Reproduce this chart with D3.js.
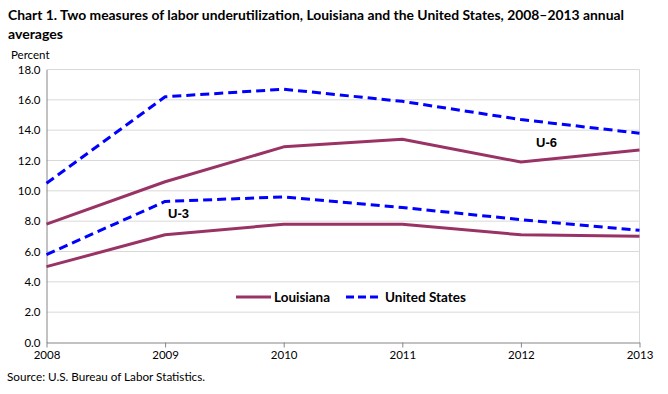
<!DOCTYPE html>
<html><head><meta charset="utf-8">
<script src="https://cdn.jsdelivr.net/npm/d3@7"></script>
<style>body{margin:0;background:#fff}</style>
</head><body>
<svg id="c" width="668" height="394"></svg>
<script>
const years = [2008, 2009, 2010, 2011, 2012, 2013];
const laU6 = [7.8, 10.6, 12.9, 13.4, 11.9, 12.7];
const laU3 = [5.0, 7.1, 7.8, 7.8, 7.1, 7.0];
const usU6 = [10.5, 16.2, 16.7, 15.9, 14.7, 13.8];
const usU3 = [5.8, 9.3, 9.6, 8.9, 8.1, 7.4];
const yTicks = [0, 2, 4, 6, 8, 10, 12, 14, 16, 18];

const svg = d3.select("#c");
const font = "Lato, 'Open Sans', sans-serif";
const x = d3.scaleLinear().domain([2008, 2013]).range([46.5, 639.5]);
const y = d3.scaleLinear().domain([0, 18]).range([342.5, 69.5]);

// title
svg.append("text").attr("x", 8).attr("y", 20).attr("font-family", font).attr("font-weight", "bold")
  .attr("font-size", 14).attr("fill", "#000").attr("textLength", 616).attr("lengthAdjust", "spacingAndGlyphs")
  .text("Chart 1. Two measures of labor underutilization, Louisiana and the United States, 2008\u20132013  annual");
svg.append("text").attr("x", 8).attr("y", 39).attr("font-family", font).attr("font-weight", "bold")
  .attr("font-size", 14).attr("fill", "#000").attr("textLength", 55).attr("lengthAdjust", "spacingAndGlyphs").text("averages");
svg.append("text").attr("x", 11).attr("y", 59).attr("font-family", font)
  .attr("font-size", 11.5).attr("fill", "#000").text("Percent");

// gridlines
svg.append("g").selectAll("line").data(yTicks.filter(d => d > 0)).join("line")
  .attr("x1", x(2008)).attr("x2", x(2013)).attr("y1", d => y(d)).attr("y2", d => y(d))
  .attr("stroke", "#d9d9d9").attr("stroke-width", 1);
// right border
svg.append("line").attr("x1", x(2013)).attr("x2", x(2013)).attr("y1", y(18)).attr("y2", y(0))
  .attr("stroke", "#d9d9d9");

// y axis
const yAxis = d3.axisLeft(y).tickValues(yTicks).tickFormat(d3.format(".1f")).tickSize(0).tickPadding(6);
const gy = svg.append("g").attr("transform", `translate(${x(2008)},0)`).call(yAxis);
gy.select(".domain").attr("stroke", "#868686");
gy.selectAll("text").attr("font-family", font).attr("font-size", 11.5).attr("fill", "#000");

// x axis
const xAxis = d3.axisBottom(x).tickValues(years).tickFormat(d3.format("d")).tickSize(5).tickSizeOuter(0).tickPadding(3);
const gx = svg.append("g").attr("transform", `translate(0,${y(0)})`).call(xAxis);
gx.select(".domain").attr("stroke", "#868686");
gx.selectAll(".tick line").attr("stroke", "#868686");
gx.selectAll("text").attr("font-family", font).attr("font-size", 11.5).attr("fill", "#000");

const line = d3.line().x((d, i) => x(years[i])).y(d => y(d));
const LA = "#993366", US = "#0000ff";
function draw(data, color, dashed) {
  svg.append("path").attr("d", line(data)).attr("fill", "none").attr("stroke", color)
    .attr("stroke-width", 3).attr("stroke-dasharray", dashed ? "9,5" : null).attr("stroke-linejoin", "round");
}
draw(laU6, LA, false);
draw(laU3, LA, false);
draw(usU6, US, true);
draw(usU3, US, true);

// series labels
svg.append("text").attr("x", 168).attr("y", 218).attr("font-family", "Arial, 'Liberation Sans', sans-serif")
  .attr("font-weight", "bold").attr("font-size", 13).text("U-3");
svg.append("text").attr("x", 536).attr("y", 147).attr("font-family", "Arial, 'Liberation Sans', sans-serif")
  .attr("font-weight", "bold").attr("font-size", 13).text("U-6");

// legend
const lg = svg.append("g").attr("font-family", font).attr("font-size", 13).attr("font-weight", "bold");
lg.append("line").attr("x1", 236).attr("x2", 271).attr("y1", 297).attr("y2", 297).attr("stroke", LA).attr("stroke-width", 3);
lg.append("text").attr("x", 274).attr("y", 302).attr("textLength", 56).attr("lengthAdjust", "spacingAndGlyphs").text("Louisiana");
lg.append("line").attr("x1", 346).attr("x2", 378).attr("y1", 297).attr("y2", 297).attr("stroke", US).attr("stroke-width", 3).attr("stroke-dasharray", "8,4");
lg.append("text").attr("x", 385).attr("y", 302).attr("textLength", 81).attr("lengthAdjust", "spacingAndGlyphs").text("United States");

svg.append("text").attr("x", 7).attr("y", 381).attr("font-family", font).attr("font-size", 11)
  .attr("textLength", 198).attr("lengthAdjust", "spacingAndGlyphs")
  .text("Source: U.S. Bureau of Labor Statistics.");
</script>
</body></html>
